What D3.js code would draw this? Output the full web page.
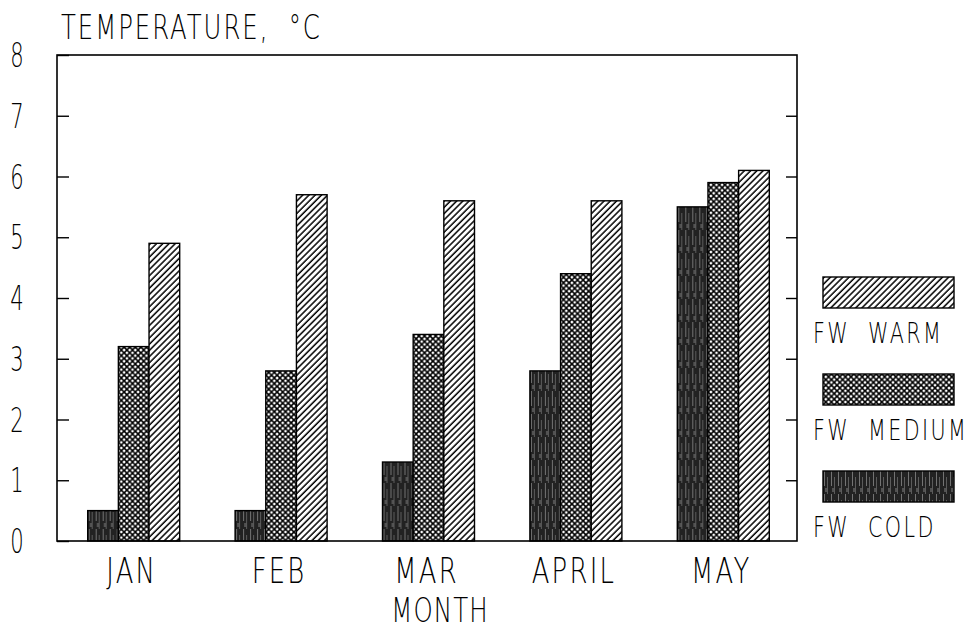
<!DOCTYPE html>
<html>
<head>
<meta charset="utf-8">
<script src="https://cdn.jsdelivr.net/npm/d3@7"></script>
<style>
  body { margin: 0; background: #fff; }
  text { font-family: "DejaVu Sans", sans-serif; font-weight: 200; fill: #000; white-space: pre; }
</style>
</head>
<body>
<div id="chart"></div>
<script>
// chart data
var months = ['JAN', 'FEB', 'MAR', 'APRIL', 'MAY']
var seriesNames = ['FW COLD', 'FW MEDIUM', 'FW WARM']
var coldValues = [0.5, 0.5, 1.3, 2.8, 5.5]
var mediumValues = [3.2, 2.8, 3.4, 4.4, 5.9]
var warmValues = [4.9, 5.7, 5.6, 5.6, 6.1]
var yTicks = [0, 1, 2, 3, 4, 5, 6, 7, 8]
var legendOrder = ['FW  WARM', 'FW  MEDIUM', 'FW  COLD']

var rows = months.map(function (m, i) {
  return { month: m, values: [coldValues[i], mediumValues[i], warmValues[i]] }
})

// layout settings
var chart = {}
chart.width = 976
chart.height = 631
chart.left = 57
chart.right = 797
chart.top = 55
chart.bottom = 541
chart.groupWidth = 92
chart.squeeze = 0.74

chart.x0 = d3.scaleBand().domain(months).range([60, 797]).padding(0)
chart.x1 = d3.scaleBand().domain(seriesNames).range([0, chart.groupWidth]).padding(0)
chart.y = d3.scaleLinear().domain([0, 8]).range([chart.bottom, chart.top])

var patternIds = { 'FW  COLD': 'patCold', 'FW  MEDIUM': 'patMedium', 'FW  WARM': 'patWarm' }
var seriesPattern = { 'FW COLD': 'patCold', 'FW MEDIUM': 'patMedium', 'FW WARM': 'patWarm' }

var svg = d3.select('#chart')
  .append('svg')
  .attr('width', chart.width)
  .attr('height', chart.height)

// tall, narrow plotter-like lettering
function label (sel, x, y, str, anchor, size, sx, spacing) {
  return sel.append('text')
    .attr('transform', 'translate(' + x + ',' + y + ') scale(' + (sx || chart.squeeze) + ',1)')
    .attr('text-anchor', anchor || 'start')
    .attr('font-size', size)
    .attr('letter-spacing', spacing === undefined ? 3 : spacing)
    .text(str)
}

// fill patterns that mimic the printed hatching
var defs = svg.append('defs')

var warm = defs.append('pattern')
  .attr('id', 'patWarm')
  .attr('patternUnits', 'userSpaceOnUse')
  .attr('width', 4.4)
  .attr('height', 4.4)
  .attr('patternTransform', 'rotate(45)')
warm.append('rect').attr('width', 4.4).attr('height', 4.4).attr('fill', '#fff')
warm.append('line')
  .attr('x1', 1).attr('y1', 0).attr('x2', 1).attr('y2', 4.4)
  .attr('stroke', '#000').attr('stroke-width', 1.5)

var medium = defs.append('pattern')
  .attr('id', 'patMedium')
  .attr('patternUnits', 'userSpaceOnUse')
  .attr('width', 5.6)
  .attr('height', 5.6)
medium.append('rect').attr('width', 5.6).attr('height', 5.6).attr('fill', '#000')
;[[0, 0], [5.6, 0], [0, 5.6], [5.6, 5.6], [2.8, 2.8]].forEach(function (p) {
  medium.append('circle')
    .attr('cx', p[0]).attr('cy', p[1]).attr('r', 1.4)
    .attr('fill', '#fff')
})

var cold = defs.append('pattern')
  .attr('id', 'patCold')
  .attr('patternUnits', 'userSpaceOnUse')
  .attr('width', 7)
  .attr('height', 23)
cold.append('rect').attr('width', 7).attr('height', 23).attr('fill', '#222')
cold.append('line').attr('x1', 1.5).attr('y1', 0).attr('x2', 1.5).attr('y2', 15)
  .attr('stroke', '#888').attr('stroke-width', 0.8)
cold.append('line').attr('x1', 4.5).attr('y1', 6).attr('x2', 4.5).attr('y2', 23)
  .attr('stroke', '#6a6a6a').attr('stroke-width', 0.8)
cold.append('line').attr('x1', 3).attr('y1', 17).attr('x2', 3).attr('y2', 21)
  .attr('stroke', '#aaa').attr('stroke-width', 0.7)

// bars
var groups = svg.append('g')
  .selectAll('g')
  .data(rows)
  .enter()
  .append('g')
  .attr('transform', function (d) {
    var off = (chart.x0.bandwidth() - chart.groupWidth) / 2
    return 'translate(' + (chart.x0(d.month) + off) + ',0)'
  })

groups.selectAll('rect')
  .data(function (d) {
    return d.values.map(function (v, i) { return { name: seriesNames[i], val: v } })
  })
  .enter()
  .append('rect')
  .attr('x', function (d) { return chart.x1(d.name) })
  .attr('y', function (d) { return chart.y(d.val) })
  .attr('width', chart.x1.bandwidth())
  .attr('height', function (d) { return chart.bottom - chart.y(d.val) })
  .attr('fill', function (d) { return 'url(#' + seriesPattern[d.name] + ')' })
  .attr('stroke', '#000')
  .attr('stroke-width', 1.4)

// frame
svg.append('rect')
  .attr('x', chart.left)
  .attr('y', chart.top)
  .attr('width', chart.right - chart.left)
  .attr('height', chart.bottom - chart.top)
  .attr('fill', 'none')
  .attr('stroke', '#000')
  .attr('stroke-width', 1.6)

// left and right axes: inward ticks only, labels drawn separately
var yAxisL = d3.axisRight(chart.y).tickValues(yTicks).tickSize(12).tickFormat('')
svg.append('g')
  .attr('transform', 'translate(' + chart.left + ',0)')
  .call(yAxisL)
  .call(function (g) { g.select('.domain').remove() })
  .selectAll('line').attr('stroke', '#000').attr('stroke-width', 1.4)

var yAxisR = d3.axisLeft(chart.y).tickValues(yTicks.slice(1, 8)).tickSize(11).tickFormat('')
svg.append('g')
  .attr('transform', 'translate(' + chart.right + ',0)')
  .call(yAxisR)
  .call(function (g) { g.select('.domain').remove() })
  .selectAll('line').attr('stroke', '#000').attr('stroke-width', 1.4)

var yLabels = svg.append('g')
yTicks.forEach(function (t) {
  label(yLabels, 17, chart.y(t) + 12, String(t), 'middle', 33, 0.64, 0)
})

// month labels
var xLabels = svg.append('g')
months.forEach(function (m) {
  label(xLabels, chart.x0(m) + chart.x0.bandwidth() / 2 - 2, 583, m, 'middle', 35)
})

label(svg, 440, 622, 'MONTH', 'middle', 34, 0.72, 1.5)
label(svg, 61, 39, 'TEMPERATURE,  °C', 'start', 33, 0.74, 2.6)

// legend
var legend = svg.append('g')
legendOrder.forEach(function (name, i) {
  var g = legend.append('g')
    .attr('transform', 'translate(823,' + (277 + i * 97) + ')')
  g.append('rect')
    .attr('width', 131)
    .attr('height', 31)
    .attr('fill', 'url(#' + patternIds[name] + ')')
    .attr('stroke', '#000')
    .attr('stroke-width', 1.4)
  label(g, -10, 66, name, 'start', 28, 0.74, 3.2)
})
</script>
</body>
</html>
